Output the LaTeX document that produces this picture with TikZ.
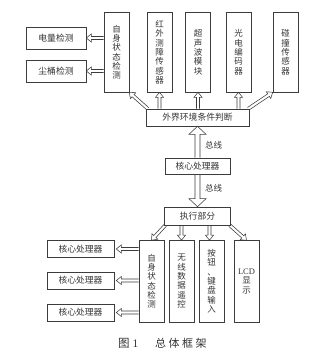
\documentclass[tikz,border=0pt]{standalone}
\usepackage{fontspec}
\setmainfont{Liberation Serif}
\newfontfamily\cjk{Noto Sans CJK SC}
\usetikzlibrary{calc}
\definecolor{linec}{HTML}{3C3C3C}
\definecolor{textc}{HTML}{333333}
% hollow arrow: #1 from, #2 to, #3 shaft half width, #4 head half width, #5 head length
\newcommand\harr[5]{\path[draw=linec, line width=0.55pt, line join=miter] let \p1=#1, \p2=#2, \n1={atan2(\y2-\y1,\x2-\x1)}, \n2={veclen(\x2-\x1,\y2-\y1)} in [shift={(\p1)}, rotate=\n1] (0,-#3) -- (\n2-#5,-#3) -- (\n2-#5,-#4) -- (\n2,0) -- (\n2-#5,#4) -- (\n2-#5,#3) -- (0,#3);}
\tikzset{
  box/.style={draw=linec, line width=0.6pt, inner sep=0pt, text=textc, font=\cjk\fontsize{8.8}{10}\selectfont},
  vbox/.style={box, minimum width=25pt, align=center, font=\cjk\fontsize{8.5}{9.3}\selectfont},
  hbox/.style={box, minimum width=#1},
  lbl/.style={text=textc, inner sep=0pt, font=\cjk\fontsize{8.5}{10}\selectfont},
}
\begin{document}
\begin{tikzpicture}[x=1pt,y=-1pt]
\useasboundingbox (0,0) rectangle (320,358);
% top left
\node[box, minimum width=60pt, minimum height=22pt] (dl) at (56,38) {电量检测};
\node[box, minimum width=60pt, minimum height=22pt] (ct) at (56,71) {尘桶检测};
% top vertical boxes
\node[vbox, minimum height=79.5pt] (zs1) at (116.5,52.25) {自\\身\\状\\态\\检\\测};
\node[vbox, minimum height=79.5pt] (hw) at (159.5,52.25) {红\\外\\测\\障\\传\\感\\器};
\node[vbox, minimum height=79.5pt] (cs) at (198,52.25) {超\\声\\波\\模\\块};
\node[vbox, minimum height=79.5pt] (gd) at (238.5,52.25) {光\\电\\编\\码\\器};
\node[vbox, minimum height=79.5pt] (pz) at (285.5,52.25) {碰\\撞\\传\\感\\器};
% middle
\node[box, minimum width=103pt, minimum height=17pt] (pd) at (197.5,117.5) {外界环境条件判断};
\node[box, minimum width=65pt, minimum height=16pt] (hx) at (197.5,166) {核心处理器};
\node[box, minimum width=66pt, minimum height=18pt] (zx) at (197.5,216) {执行部分};
% bottom vertical boxes
\node[vbox, minimum height=81.5pt] (zs2) at (151.5,281.25) {自\\身\\状\\态\\检\\测};
\node[vbox, minimum height=81.5pt] (wx) at (181.5,281.25) {无\\线\\数\\据\\遥\\控};
\node[vbox, minimum height=81.5pt] (aj) at (211.5,281.25) {按\\钮\\、\\键\\盘\\输\\入};
\node[vbox, minimum height=81.5pt] (lcd) at (246.5,281.25) {{\rmfamily LCD}\\显\\示};
% bottom left
\node[box, minimum width=67pt, minimum height=17pt] (k1) at (80.5,249) {核心处理器};
\node[box, minimum width=67pt, minimum height=17pt] (k2) at (80.5,280.5) {核心处理器};
\node[box, minimum width=67pt, minimum height=17pt] (k3) at (80.5,312.5) {核心处理器};
% bus labels
\node[lbl] (b1) at (213.5,145) {总线};
\node[lbl] (b2) at (213.5,188) {总线};
% caption
\node[lbl, anchor=west, font=\fontsize{11.5}{13}\selectfont] (c1) at (118,343) {{\cjk 图}\hspace{3pt}1};
\node[lbl, anchor=west, font=\cjk\fontsize{11}{13}\selectfont] (c2) at (155,343) {总\hspace{2.5pt}体\hspace{2.5pt}框\hspace{2.5pt}架};
% arrows top left
\harr{(zs1.west |- dl)}{(dl.east)}{1.5}{4}{5}
\harr{(zs1.west |- ct)}{(ct.east)}{1.5}{4}{5}
% arrows from pd
\harr{([xshift=2pt]pd.north west)}{(zs1.south east)}{1.5}{4}{5}
\harr{(pd.north -| hw)}{(hw.south)}{1.5}{4}{5}
\harr{(pd.north -| cs)}{(cs.south)}{1.5}{4}{5}
\harr{(pd.north -| gd)}{(gd.south)}{1.5}{4}{5}
\harr{([xshift=-1pt]pd.north east)}{(pz.south west)}{1.5}{4}{5}
% bus arrows
\harr{(hx.north)}{(pd.south)}{2.5}{8.5}{8}
\harr{(hx.south)}{(zx.north)}{2.5}{8.5}{8}
% arrows from zx
\harr{([xshift=1pt]zx.south west)}{(zs2.north)}{1.5}{4}{5}
\harr{(zx.south -| wx)}{(wx.north)}{1.5}{4}{5}
\harr{([xshift=-2pt]zx.south -| aj)}{([xshift=-2pt]aj.north)}{1.5}{4}{5}
\harr{([xshift=-1pt]zx.south east)}{(lcd.north)}{1.5}{4}{5}
% arrows bottom left
\harr{(zs2.west |- k1)}{([xshift=2pt]k1.east)}{1.5}{4}{5}
\harr{(zs2.west |- k2)}{([xshift=2pt]k2.east)}{1.5}{4}{5}
\harr{(zs2.west |- k3)}{([xshift=2pt]k3.east)}{1.5}{4}{5}
\end{tikzpicture}
\end{document}
